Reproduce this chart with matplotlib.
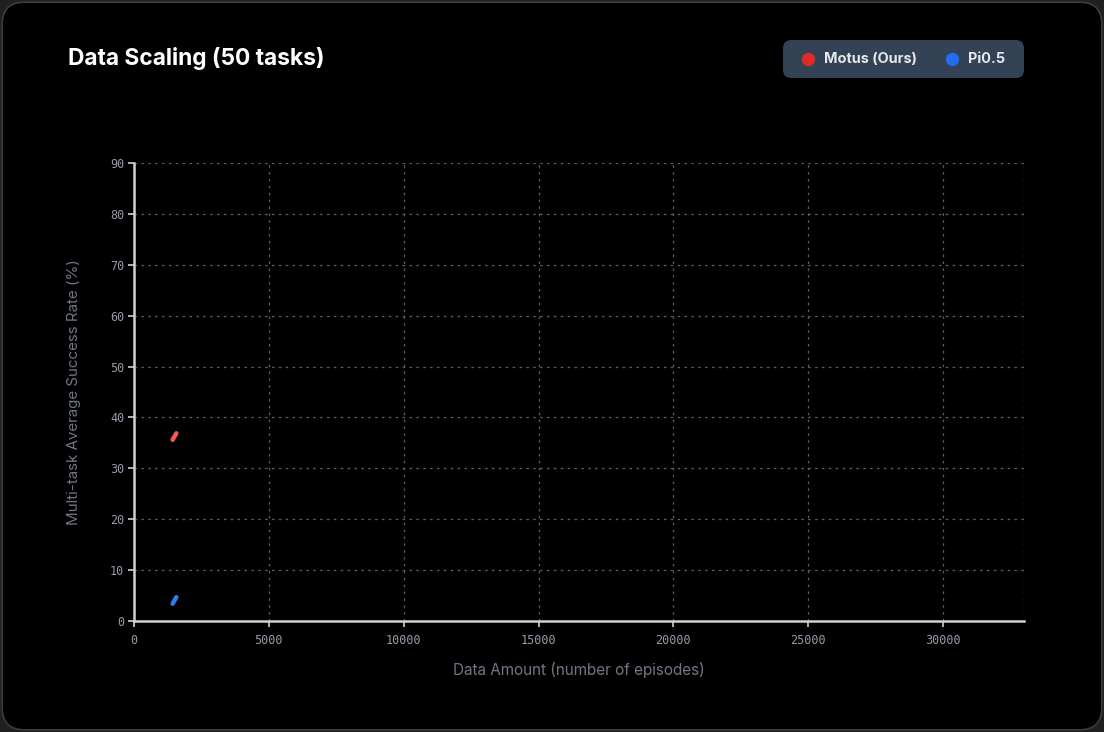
import matplotlib
matplotlib.use("Agg")
import matplotlib.pyplot as plt
from matplotlib.patches import FancyBboxPatch
from matplotlib.lines import Line2D

# data (only the first bit of each curve is drawn)
episodes = [1430, 1570]
motus_rate = [35.6, 36.9]
pi05_rate = [3.4, 4.7]

series_names = ["Motus (Ours)", "Pi0.5"]
series_colors = ["#f0585a", "#2f7bf0"]
legend_colors = ["#e02a2a", "#1f6ff2"]

x_ticks = [0, 5000, 10000, 15000, 20000, 25000, 30000]
y_ticks = [0, 10, 20, 30, 40, 50, 60, 70, 80, 90]
x_max = 33000
y_max = 90

title = "Data Scaling (50 tasks)"
x_label = "Data Amount (number of episodes)"
y_label = "Multi-task Average Success Rate (%)"

W, H = 1104, 732
fig = plt.figure(figsize=(W / 100, H / 100), dpi=100)
fig.patch.set_facecolor("#202022")

# card background with rounded corners
card = FancyBboxPatch((0.002, 0.003), 0.996, 0.994,
                      boxstyle="round,pad=0,rounding_size=0.02",
                      transform=fig.transFigure, facecolor="#000000",
                      edgecolor="#3a3b3f", linewidth=1.2, zorder=-10,
                      mutation_aspect=W / H)
fig.patches.append(card)

ax = fig.add_axes([0.1214, 0.1516, 0.8061, 0.6257])
ax.set_facecolor("#000000")

ax.plot(episodes, motus_rate, color=series_colors[0], lw=3.2,
        solid_capstyle="round", zorder=3)
ax.plot(episodes, pi05_rate, color=series_colors[1], lw=3.2,
        solid_capstyle="round", zorder=3)

ax.set_xlim(0, x_max)
ax.set_ylim(0, y_max)
ax.set_xticks(x_ticks)
ax.set_yticks(y_ticks)
ax.set_xticklabels([str(v) for v in x_ticks])
ax.set_yticklabels([str(v) for v in y_ticks])

ax.grid(True, color="#606060", linestyle=(0, (2, 3.5)), linewidth=0.9)
ax.axvline(x_max, color="#606060", linestyle=(0, (2, 3.5)), linewidth=0.9)

for s in ["top", "right"]:
    ax.spines[s].set_visible(False)
for s in ["left", "bottom"]:
    ax.spines[s].set_color("#d0d0d0")
    ax.spines[s].set_linewidth(1.8)

ax.tick_params(colors="#d0d0d0", length=4, width=1.2)
for lab in ax.get_xticklabels() + ax.get_yticklabels():
    lab.set_family("DejaVu Sans Mono")
    lab.set_fontsize(8.5)
    lab.set_color("#959baa")
ax.tick_params(axis="x", pad=5)
ax.tick_params(axis="y", pad=3)

ax.set_xlabel(x_label, family="Inter", fontsize=11, color="#707684", labelpad=11)
ax.set_ylabel(y_label, family="Inter", fontsize=10.9, color="#707684", labelpad=21)

fig.text(68 / W, 1 - 59 / H, title, family="Inter", fontweight="bold",
         fontsize=16.4, color="#ffffff", va="center", ha="left")

# legend pill drawn by hand so it sits where the reference has it
box = FancyBboxPatch((783 / W, 1 - 78 / H), (1024 - 783) / W, 38 / H,
                     boxstyle="round,pad=0,rounding_size=0.0075",
                     transform=fig.transFigure, facecolor="#344256",
                     edgecolor="none", zorder=5, mutation_aspect=W / H)
fig.patches.append(box)
dot_x = [808, 952]
text_x = [824, 968]
for name, c, dx, tx in zip(series_names, legend_colors, dot_x, text_x):
    fig.add_artist(Line2D([dx / W], [1 - 59 / H], transform=fig.transFigure,
                          marker="o", linestyle="none", markersize=8.5,
                          markerfacecolor=c, markeredgecolor=c, zorder=6))
    fig.text(tx / W, 1 - 59 / H, name, family="Inter", fontweight="bold",
             fontsize=10.4, color="#e6e8ee", va="center", ha="left", zorder=6)

fig.savefig("out.png", dpi=100, facecolor=fig.get_facecolor())
